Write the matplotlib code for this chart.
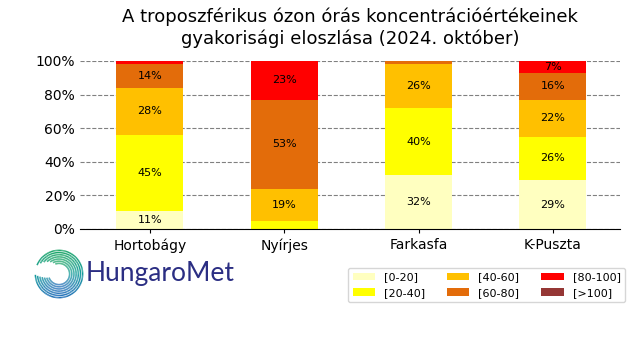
import matplotlib
matplotlib.use("Agg")
import matplotlib.pyplot as plt
import numpy as np
from matplotlib.collections import LineCollection

stations = ["Hortobágy", "Nyírjes", "Farkasfa", "K-Puszta"]
bins = ["[0-20]", "[20-40]", "[40-60]", "[60-80]", "[80-100]", "[>100]"]
v_0_20 = [11, 0, 32, 29]
v_20_40 = [45, 5, 40, 26]
v_40_60 = [28, 19, 26, 22]
v_60_80 = [14, 53, 2, 16]
v_80_100 = [2, 23, 0, 7]
v_gt100 = [0, 0, 0, 0]
colors = ["#FFFFC0", "#FFFF00", "#FFC000", "#E36C0A", "#FF0000", "#953735"]

series = [v_0_20, v_20_40, v_40_60, v_60_80, v_80_100, v_gt100]

fig = plt.figure(figsize=(6.4, 3.6), dpi=100)
ax = fig.add_axes([80/640, 1-229/360, 540/640, 168/360])
x = np.arange(len(stations))
bottom = np.zeros(len(stations))
for vals, lab, c in zip(series, bins, colors):
    vals = np.array(vals, dtype=float)
    ax.bar(x, vals, 0.5, bottom=bottom, color=c, label=lab, zorder=2)
    for xi, b, v in zip(x, bottom, vals):
        if v > 5:
            ax.text(xi, b + v/2, f"{int(v)}%", ha="center", va="center", fontsize=8, zorder=3)
    bottom += vals

ax.set_ylim(0, 100)
ax.set_xlim(-0.52, 3.5)
ax.set_yticks([0, 20, 40, 60, 80, 100])
ax.set_yticklabels([f"{t}%" for t in [0, 20, 40, 60, 80, 100]], fontsize=10)
ax.set_xticks(x)
ax.set_xticklabels(stations, fontsize=10)
ax.tick_params(axis="y", length=0)
ax.tick_params(axis="x", length=3)
for s in ["top", "right", "left"]:
    ax.spines[s].set_visible(False)
ax.yaxis.grid(True, linestyle="--", color="grey", linewidth=0.8, zorder=0)
ax.set_axisbelow(True)
ax.set_title("A troposzférikus ózon órás koncentrációértékeinek\ngyakorisági eloszlása (2024. október)",
             fontsize=13, pad=12.5)

leg = ax.legend(ncol=3, fontsize=8, loc="upper right", bbox_to_anchor=(625/640, 1-268/360),
                bbox_transform=fig.transFigure, frameon=True, handlelength=2.0,
                columnspacing=2.0, borderaxespad=0)

# logo
lax = fig.add_axes([33/640, 1-300/360, 52/640, 52/360])
lax.set_xlim(-1.1, 1.1)
lax.set_ylim(-1.1, 1.1)
lax.set_aspect("equal")
lax.axis("off")
cmap = matplotlib.colors.LinearSegmentedColormap.from_list("hm", ["#1F6FB8", "#139B9B", "#1DA66A"])
radii = np.linspace(0.45, 1.0, 7)
for i, r in enumerate(radii):
    t0 = np.deg2rad(200 - i*3)
    t1 = np.deg2rad(200 + 270 + i*8)
    t = np.linspace(t0, t1, 120)
    xs, ys = r*np.cos(t), r*np.sin(t)
    pts = np.column_stack([xs, ys]).reshape(-1, 1, 2)
    segs = np.concatenate([pts[:-1], pts[1:]], axis=1)
    cval = (np.sin(t[:-1]) + 1) / 2
    lc = LineCollection(segs, colors=cmap(cval), linewidths=1.1)
    lax.add_collection(lc)
fig.text(86/640, 1-274/360, "HungaroMet", fontsize=19, color="#2B2E83", va="center", ha="left",
         family="Lato")

fig.savefig("out.png", dpi=100)
